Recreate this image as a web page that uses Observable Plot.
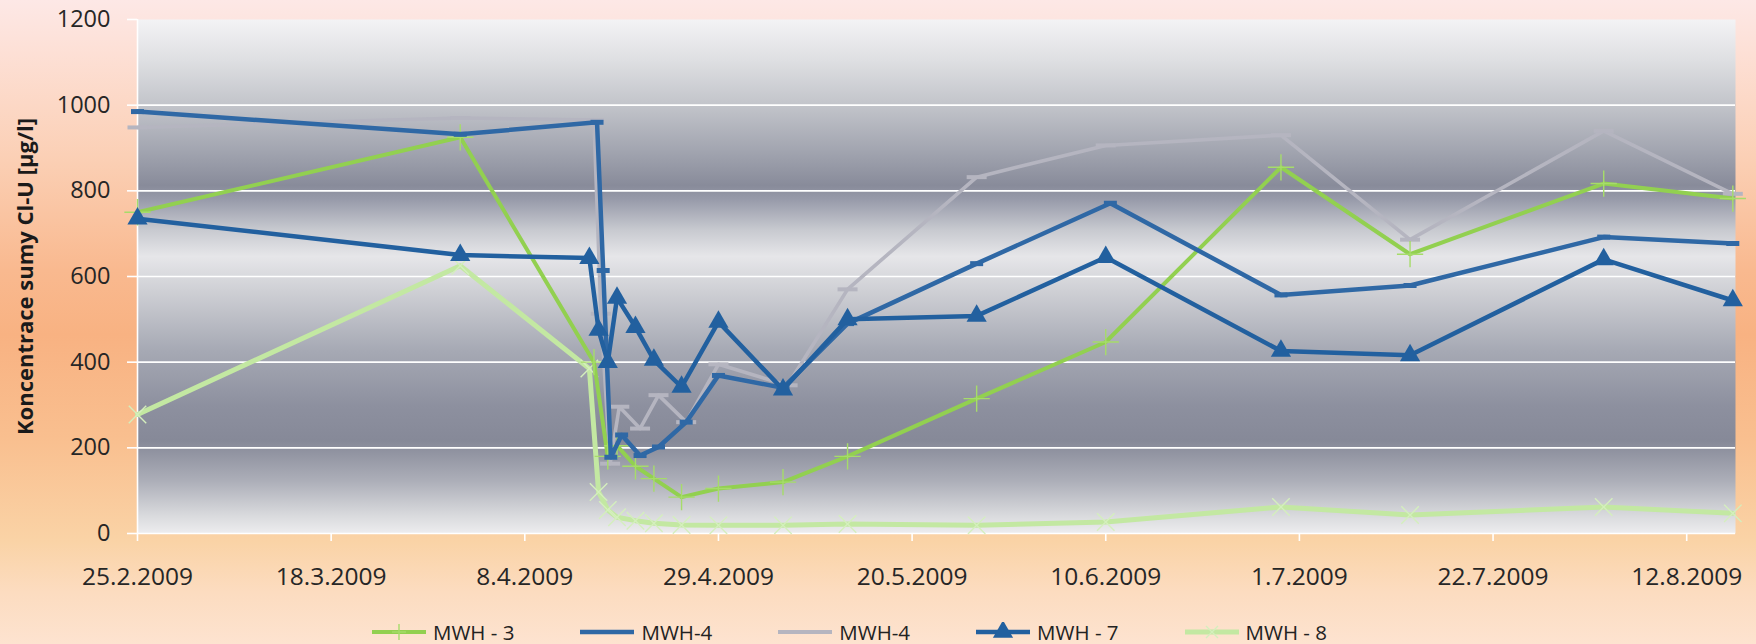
<!DOCTYPE html>
<html>
<head>
<meta charset="utf-8">
<script src="https://cdn.jsdelivr.net/npm/d3@7"></script>
<script src="https://cdn.jsdelivr.net/npm/@observablehq/plot@0.6"></script>
<style>
  html, body { margin: 0; padding: 0; }
  body {
    width: 1756px; height: 644px; overflow: hidden; position: relative;
    font-family: "Open Sans", sans-serif;
    background: linear-gradient(to bottom, #fde8e6 0%, #fde0d6 8%, #fbcfb4 25%, #f9b98f 42%, #f8b282 52%, #f9bf8f 68%, #fad3a6 84%, #fcdcc0 92%, #fde3d0 100%);
  }
  #chart { position: absolute; left: 0; top: 0; }
  #legend { position: absolute; left: 372px; top: 621px; height: 22px; line-height: 22px; display: flex; align-items: center; gap: 66px; font-size: 20.5px; color: #222; white-space: nowrap; }
  .item { display: flex; align-items: center; gap: 7px; height: 22px; }
  .item svg { display: block; }
</style>
</head>
<body>
<div id="chart"></div>
<div id="legend"></div>
<script>
// ---------- data ----------
const seriesNames = ["MWH - 3", "MWH-4", "MWH-4", "MWH - 7", "MWH - 8"];

const mwh3Dates  = ["2009-02-25","2009-04-01","2009-04-15T12:00Z","2009-04-17","2009-04-18","2009-04-20","2009-04-22","2009-04-25","2009-04-29","2009-05-06","2009-05-13","2009-05-27","2009-06-10","2009-06-29","2009-07-13","2009-08-03","2009-08-17"];
const mwh3Values = [750, 925, 400, 180, 205, 157, 128, 85, 105, 120, 180, 315, 447, 855, 652, 817, 782];

const mwh4Dates  = ["2009-02-25","2009-04-01","2009-04-15T20:00Z","2009-04-16T12:00Z","2009-04-17T08:00Z","2009-04-18T12:00Z","2009-04-20T12:00Z","2009-04-22T12:00Z","2009-04-25T12:00Z","2009-04-29","2009-05-06","2009-05-13","2009-05-27","2009-06-10T12:00Z","2009-06-29","2009-07-13","2009-08-03","2009-08-17"];
const mwh4Values = [985, 932, 960, 614, 178, 230, 182, 202, 260, 369, 340, 490, 630, 771, 557, 579, 692, 677];

const mwh4bDates  = ["2009-02-25","2009-04-01","2009-04-15T12:00Z","2009-04-16T06:00Z","2009-04-17T06:00Z","2009-04-18T06:00Z","2009-04-20T12:00Z","2009-04-22T12:00Z","2009-04-25T12:00Z","2009-04-29","2009-05-06T12:00Z","2009-05-13","2009-05-27","2009-06-10","2009-06-29","2009-07-13","2009-08-03","2009-08-17"];
const mwh4bValues = [948, 970, 965, 513, 163, 296, 245, 323, 260, 395, 346, 570, 832, 906, 930, 686, 940, 793];

const mwh7Dates  = ["2009-02-25","2009-04-01","2009-04-15","2009-04-16","2009-04-17","2009-04-18","2009-04-20","2009-04-22","2009-04-25","2009-04-29","2009-05-06","2009-05-13","2009-05-27","2009-06-10","2009-06-29","2009-07-13","2009-08-03","2009-08-17"];
const mwh7Values = [735, 650, 643, 475, 400, 550, 482, 405, 342, 494, 336, 500, 508, 645, 426, 416, 640, 544];

const mwh8Dates  = ["2009-02-25","2009-04-01","2009-04-15","2009-04-16","2009-04-17","2009-04-18","2009-04-20","2009-04-22","2009-04-25","2009-04-29","2009-05-06","2009-05-13","2009-05-27","2009-06-10","2009-06-29","2009-07-13","2009-08-03","2009-08-17"];
const mwh8Values = [278, 625, 385, 97, 55, 38, 30, 24, 20, 19, 19, 22, 19, 27, 62, 43, 62, 47];

const xTickDates  = ["2009-02-25","2009-03-18","2009-04-08","2009-04-29","2009-05-20","2009-06-10","2009-07-01","2009-07-22","2009-08-12"];
const xTickLabels = ["25.2.2009","18.3.2009","8.4.2009","29.4.2009","20.5.2009","10.6.2009","1.7.2009","22.7.2009","12.8.2009"];
const yTicks = [0, 200, 400, 600, 800, 1000, 1200];
const yTickLabels = ["0", "200", "400", "600", "800", "1000", "1200"];
const yGrid  = [200, 400, 600, 800, 1000];
const yLabel = "Koncentrace sumy Cl-U [µg/l]";
const xDomain = ["2009-02-25", "2009-08-17T07:00Z"];

// ---------- styles ----------
const colors = { mwh3: "#92d050", mwh4: "#2f68a5", mwh4b: "#b5b5c0", mwh7: "#22609f", mwh8: "#c3e8a2" };
const bgStops = [[0,"#f3f3f5"],[0.08,"#dedfe2"],[0.167,"#c2c4ca"],[0.255,"#a2a5b0"],[0.323,"#888b9a"],[0.352,"#999cab"],[0.41,"#c8cad0"],[0.461,"#e6e6e9"],[0.527,"#cfd0d5"],[0.644,"#a6a9b4"],[0.751,"#8d909f"],[0.82,"#868998"],[0.897,"#acaeb8"],[0.965,"#d9dadd"],[1,"#ededef"]];

const parse = s => new Date(s.length === 10 ? s + "T00:00:00Z" : s);
const rows = (dates, values) => dates.map((d, i) => ({date: parse(d), value: values[i]}));
const d3data = rows(mwh3Dates, mwh3Values);
const d4data = rows(mwh4Dates, mwh4Values);
const d4bdata = rows(mwh4bDates, mwh4bValues);
const d7data = rows(mwh7Dates, mwh7Values);
const d8data = rows(mwh8Dates, mwh8Values);
const xTicks = xTickDates.map(parse);
const fmtX = d => xTickLabels[xTicks.findIndex(t => +t === +d)];
const fmtY = d => yTickLabels[yTicks.indexOf(d)];

const dash = w => ({ draw(ctx) { ctx.moveTo(-w / 2, 0); ctx.lineTo(w / 2, 0); } });

const lineOpts = (c, w) => ({x: "date", y: "value", stroke: c, strokeWidth: w, strokeLinejoin: "round", strokeLinecap: "round"});

const plot = Plot.plot({
  width: 1756, height: 610,
  marginLeft: 137, marginRight: 21, marginTop: 19, marginBottom: 77,
  style: {background: "transparent", fontFamily: "'Open Sans', sans-serif", overflow: "visible"},
  x: {type: "utc", domain: xDomain.map(parse)},
  y: {domain: [0, 1200]},
  marks: [
    Plot.frame({fill: "url(#plotbg)", stroke: "none"}),
    Plot.gridY(yGrid, {stroke: "white", strokeOpacity: 1, strokeWidth: 1.6}),
    Plot.ruleY([0], {stroke: "white", strokeWidth: 1.6}),
    Plot.ruleX([parse(xDomain[0])], {stroke: "white", strokeWidth: 1.6}),
    Plot.axisX({ticks: xTicks, tickSize: 8, tickFormat: () => "", stroke: "white", strokeWidth: 1.6, label: null}),
    Plot.axisX({ticks: xTicks, tickSize: 0, tickPadding: 34, tickFormat: fmtX, fontSize: 24.5, fill: "#262626", label: null}),
    Plot.axisY({ticks: yTicks, tickSize: 10, tickFormat: () => "", stroke: "white", strokeWidth: 1.6, label: null}),
    Plot.axisY({ticks: yTicks, tickSize: 0, tickPadding: 27, tickFormat: fmtY, fontSize: 23.5, fill: "#262626", label: null}),
    Plot.text([yLabel], {text: d => d, frameAnchor: "left", textAnchor: "middle", rotate: -90, dx: -112, fontSize: 22, fontWeight: "bold", fill: "#1a1a1a"}),

    // MWH - 8
    Plot.line(d8data, lineOpts(colors.mwh8, 5)),
    Plot.dot(d8data, {x: "date", y: "value", symbol: "times", r: 8, stroke: "#d4efbd", strokeWidth: 1.4}),
    // MWH-4 (gray)
    Plot.line(d4bdata, lineOpts(colors.mwh4b, 3.6)),
    Plot.dot(d4bdata, {x: "date", y: "value", symbol: dash(20), fill: "none", stroke: colors.mwh4b, strokeWidth: 4}),
    // MWH - 3
    Plot.line(d3data, lineOpts(colors.mwh3, 4)),
    Plot.dot(d3data, {x: "date", y: "value", symbol: "plus", r: 8.5, stroke: "#a6dc6a", strokeWidth: 1.4}),
    // MWH-4 (blue)
    Plot.line(d4data, lineOpts(colors.mwh4, 4.5)),
    Plot.dot(d4data, {x: "date", y: "value", symbol: dash(13), fill: "none", stroke: colors.mwh4, strokeWidth: 5}),
    // MWH - 7
    Plot.line(d7data, lineOpts(colors.mwh7, 4.5)),
    Plot.dot(d7data, {x: "date", y: "value", symbol: "triangle", r: 7.5, fill: colors.mwh7, stroke: "none"})
  ]
});

const svg = d3.select(plot);
const grad = svg.insert("defs", ":first-child").append("linearGradient")
  .attr("id", "plotbg").attr("x1", 0).attr("y1", 0).attr("x2", 0).attr("y2", 1);
bgStops.forEach(([o, c]) => grad.append("stop").attr("offset", o).attr("stop-color", c));
document.getElementById("chart").appendChild(plot);

// ---------- legend ----------
const legendSymbols = [
  `<line x1="0" y1="10" x2="54" y2="10" stroke="${colors.mwh3}" stroke-width="4"/><line x1="27" y1="2" x2="27" y2="18" stroke="#a6dc6a" stroke-width="1.4"/><line x1="20" y1="10" x2="34" y2="10" stroke="#a6dc6a" stroke-width="1.4"/>`,
  `<line x1="0" y1="10" x2="54" y2="10" stroke="${colors.mwh4}" stroke-width="4.5"/>`,
  `<line x1="0" y1="10" x2="54" y2="10" stroke="${colors.mwh4b}" stroke-width="4"/>`,
  `<line x1="0" y1="10" x2="54" y2="10" stroke="${colors.mwh7}" stroke-width="4.5"/><path d="${d3.symbol(d3.symbolTriangle, Math.PI * 7.5 * 7.5)()}" transform="translate(27,10)" fill="${colors.mwh7}"/>`,
  `<line x1="0" y1="10" x2="54" y2="10" stroke="${colors.mwh8}" stroke-width="5"/><path d="M21,4L33,16M33,4L21,16" stroke="#d4efbd" stroke-width="1.4"/>`
];
const legend = document.getElementById("legend");
seriesNames.forEach((name, i) => {
  const item = document.createElement("div");
  item.className = "item";
  item.innerHTML = `<svg width="54" height="20" viewBox="0 0 54 20">${legendSymbols[i]}</svg><span>${name}</span>`;
  legend.appendChild(item);
});
</script>
</body>
</html>
